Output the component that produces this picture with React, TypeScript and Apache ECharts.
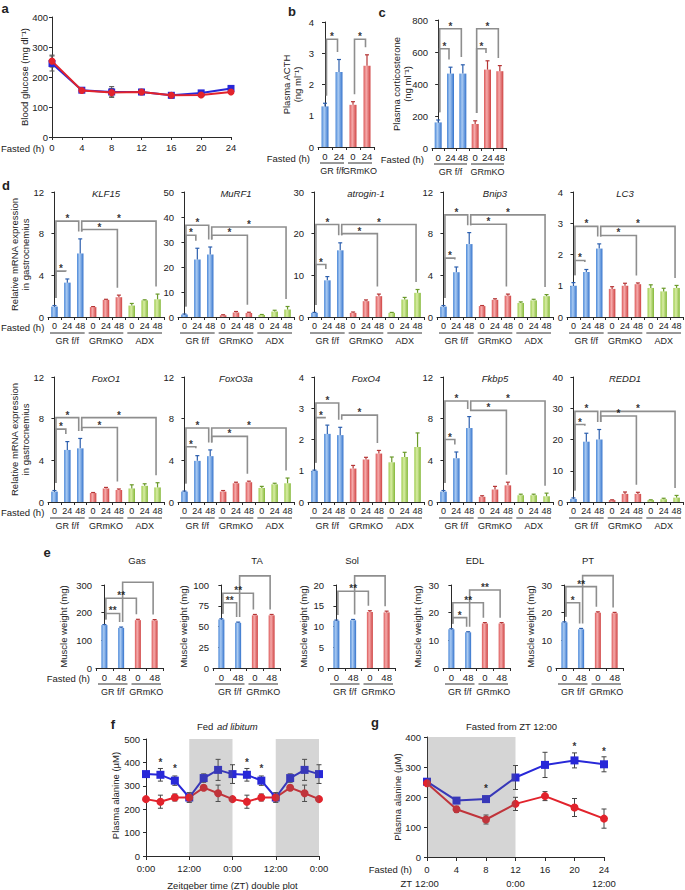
import React, { useEffect, useRef } from 'react';
import * as echarts from 'echarts';

const FONT = '"Liberation Sans", Arial, Helvetica, sans-serif';
const TXT = '#222222';
const AXC = '#2a2a2a';
const BRK = '#8e8e8e';
const BLUE = '#2828d8';
const RED = '#e2232c';
const FS = 9.5;

/* ---------------- data ---------------- */
// a: blood glucose
const hoursA = [0, 4, 8, 12, 16, 20, 24];
const glucoseGR = [245, 156, 150, 150, 139, 147, 162];
const glucoseGRErr = [25, 7, 18, 9, 9, 7, 6];
const glucoseKO = [253, 155, 148, 150, 139, 140, 150];
const glucoseKOErr = [20, 6, 14, 8, 8, 6, 5];

// b: ACTH
const fastedB = ['0', '24', '0', '24'];
const groupsB = [0, 0, 1, 1];
const acth = [1.3, 2.4, 1.35, 2.6];
const acthErr = [0.1, 0.4, 0.1, 0.35];
const acthBrk = [[0, 1, 3.45, 1], [2, 3, 3.45, 1]];

// c: corticosterone
const fastedC = ['0', '24', '48', '0', '24', '48'];
const groupsC = [0, 0, 0, 1, 1, 1];
const cort = [160, 465, 465, 150, 490, 480];
const cortErr = [15, 40, 55, 20, 55, 35];
const cortBrk = [[0, 1, 620, 1], [0, 2, 745, 1], [3, 4, 620, 1], [3, 5, 745, 1]];

const groupNamesBC = ['GR f/f', 'GRmKO'];

// d: mRNA expression
const fastedD = ['0', '24', '48', '0', '24', '48', '0', '24', '48'];
const groupsD = [0, 0, 0, 1, 1, 1, 2, 2, 2];
const groupNamesD = ['GR f/f', 'GRmKO', 'ADX'];
const geneNames = ['KLF15', 'MuRF1', 'atrogin-1', 'Bnip3', 'LC3', 'FoxO1', 'FoxO3a', 'FoxO4', 'Fkbp5', 'REDD1'];
const geneMax = [12, 50, 30, 12, 4, 12, 12, 4, 12, 40];
const geneInterval = [4, 10, 10, 4, 1, 4, 4, 1, 4, 10];

const klf15 = [1.0, 3.3, 6.1, 0.95, 1.65, 1.9, 1.1, 1.6, 1.7];
const klf15Err = [0.1, 0.35, 1.4, 0.05, 0.05, 0.2, 0.2, 0.05, 0.5];
const klf15Brk = [[0, 1, 4.4], [0, 2, 9.2], [2, 5, 8.4], [2, 8, 9.2]];

const murf1 = [1.0, 23, 25, 0.7, 1.8, 1.6, 0.8, 2.2, 3.0];
const murf1Err = [0.2, 4.5, 3, 0.2, 0.4, 0.3, 0.2, 0.5, 1.2];
const murf1Brk = [[0, 1, 32.7], [0, 2, 36.7], [2, 5, 32.7], [2, 8, 36]];

const atrogin1 = [1.0, 8.8, 16, 1.0, 3.8, 5.0, 1.0, 4.2, 5.8];
const atrogin1Err = [0.1, 0.9, 1.8, 0.2, 0.3, 0.5, 0.1, 0.5, 0.8];
const atrogin1Brk = [[0, 1, 12.6], [0, 2, 22.2], [2, 5, 20], [2, 8, 22.2]];

const bnip3 = [1.0, 4.3, 7.0, 1.05, 1.65, 2.05, 1.35, 1.6, 2.0];
const bnip3Err = [0.1, 0.5, 1.1, 0.05, 0.1, 0.15, 0.1, 0.1, 0.15];
const bnip3Brk = [[0, 1, 5.65], [0, 2, 9.8], [2, 5, 8.9], [2, 8, 9.8]];

const lc3 = [1.0, 1.44, 2.19, 0.9, 1.0, 1.05, 0.93, 0.82, 0.93];
const lc3Err = [0.1, 0.08, 0.15, 0.07, 0.08, 0.04, 0.1, 0.1, 0.08];
const lc3Brk = [[0, 1, 1.81], [0, 2, 2.9], [2, 5, 2.61], [2, 8, 2.9]];

const foxo1 = [1.0, 5.0, 5.15, 0.86, 1.3, 1.15, 1.3, 1.55, 1.4];
const foxo1Err = [0.1, 0.8, 0.95, 0.05, 0.1, 0.1, 0.35, 0.2, 0.45];
const foxo1Brk = [[0, 1, 7.0], [0, 2, 8.1], [2, 5, 7.15], [2, 8, 8.1]];

const foxo3a = [1.0, 3.95, 4.4, 1.0, 1.8, 1.9, 1.35, 1.7, 1.8];
const foxo3aErr = [0.05, 0.5, 0.6, 0.1, 0.1, 0.1, 0.15, 0.1, 0.5];
const foxo3aBrk = [[0, 1, 5.3], [0, 2, 7.1], [2, 5, 6.3], [2, 8, 7.1]];

const foxo4 = [1.0, 2.18, 2.14, 1.07, 1.36, 1.55, 1.27, 1.44, 1.76];
const foxo4Err = [0.02, 0.28, 0.25, 0.1, 0.07, 0.1, 0.17, 0.15, 0.45];
const foxo4Brk = [[0, 1, 2.7], [0, 2, 3.17], [2, 5, 2.78]];

const fkbp5 = [1.0, 4.2, 7.1, 0.5, 1.2, 1.6, 0.65, 0.65, 0.55];
const fkbp5Err = [0.1, 0.6, 1.1, 0.1, 0.3, 0.3, 0.1, 0.1, 0.3];
const fkbp5Brk = [[0, 1, 6.0], [0, 2, 9.7], [2, 5, 8.8], [2, 8, 9.7]];

const redd1 = [1.0, 19.3, 20, 0.6, 2.6, 2.6, 0.6, 0.9, 1.4];
const redd1Err = [0.3, 2.7, 3.2, 0.1, 0.6, 0.5, 0.1, 0.3, 0.7];
const redd1Brk = [[0, 1, 24.8], [0, 2, 29], [2, 5, 27.5], [2, 8, 29]];

const geneValues = [klf15, murf1, atrogin1, bnip3, lc3, foxo1, foxo3a, foxo4, fkbp5, redd1];
const geneErrors = [klf15Err, murf1Err, atrogin1Err, bnip3Err, lc3Err, foxo1Err, foxo3aErr, foxo4Err, fkbp5Err, redd1Err];
const geneBrackets = [klf15Brk, murf1Brk, atrogin1Brk, bnip3Brk, lc3Brk, foxo1Brk, foxo3aBrk, foxo4Brk, fkbp5Brk, redd1Brk];

// e: muscle weight
const fastedE = ['0', '48', '0', '48'];
const groupsE = [0, 0, 1, 1];
const muscleNames = ['Gas', 'TA', 'Sol', 'EDL', 'PT'];
const muscleMax = [300, 100, 20, 30, 30];
const muscleInterval = [100, 25, 5, 10, 10];
const gas = [155, 145, 173, 172];
const gasErr = [2, 3, 3, 3];
const gasBrk = [[0, 1, 197, 2], [0, 2, 252, 2], [1, 3, 310, 2]];
const ta = [58.5, 54.5, 63.5, 63.5];
const taErr = [0.8, 0.8, 1, 1];
const taBrk = [[0, 1, 78.7, 2], [0, 2, 90, 2], [1, 3, 111, 2]];
const sol = [11.4, 11.5, 13.5, 13.4];
const solErr = [0.15, 0.2, 0.3, 0.3];
const solBrk = [[0, 2, 18.5, 2], [1, 3, 22.2, 2]];
const edl = [14, 12.9, 16.1, 16.1];
const edlErr = [0.2, 0.2, 0.3, 0.3];
const edlBrk = [[0, 1, 18.2, 1], [0, 2, 23.6, 2], [1, 3, 28.2, 2]];
const pt = [16.5, 14, 20, 19.8];
const ptErr = [0.2, 0.3, 0.3, 0.3];
const ptBrk = [[0, 1, 23.6, 1], [0, 2, 29.4, 2], [1, 3, 33.4, 2]];
const muscleValues = [gas, ta, sol, edl, pt];
const muscleErrors = [gasErr, taErr, solErr, edlErr, ptErr];
const muscleBrackets = [gasBrk, taBrk, solBrk, edlBrk, ptBrk];

// f: plasma alanine, fed ad libitum (double plot)
const ztHours = [0, 4, 8, 12, 16, 20, 24, 28, 32, 36, 40, 44, 48];
const ztLabels = ['0:00', '12:00', '0:00', '12:00', '0:00'];
const alaFedGR = [350, 347, 322, 250, 333, 368, 350, 347, 322, 250, 333, 368, 350];
const alaFedGRErr = [0, 27, 20, 20, 18, 45, 40, 27, 20, 20, 18, 45, 40];
const alaFedKO = [243, 232, 250, 250, 292, 268, 243, 232, 250, 250, 292, 268, 243];
const alaFedKOErr = [0, 28, 15, 20, 10, 35, 8, 28, 15, 20, 10, 35, 8];
const starsF = [[4, 398], [8, 372], [28, 398], [32, 372]];
const darkF = [[12, 24], [36, 48]];

// g: plasma alanine, fasted from ZT 12:00
const fastH = [0, 4, 8, 12, 16, 20, 24];
const alaFastGR = [251, 188, 193, 265, 307, 322, 309];
const alaFastGRErr = [8, 10, 10, 40, 42, 25, 25];
const alaFastKO = [246, 159, 125, 177, 203, 165, 128];
const alaFastKOErr = [5, 10, 15, 22, 15, 30, 32];
const starsG = [[8, 228], [20, 368], [24, 352]];
const darkG = [[0, 12]];
const ztRowG = [[0, '12:00'], [12, '0:00'], [24, '12:00']];

/* ---------------- layout ---------------- */
const LA = { left: 52, top: 17, width: 179, height: 120 };
const LB = { left: 318, top: 22, width: 56, height: 125 };
const LC = { left: 432, top: 20, width: 74, height: 128 };
const D_LEFT = [48, 178, 308, 437, 567];
const D_TOP = [192, 377];
const D_W = 116;
const D_H = 125;
const E_LEFT = [96, 213, 328, 443, 556];
const E_TOP = 585;
const E_W = 67;
const E_H = 83;
const E_TITLE_X = [137, 257, 352, 475, 588];
const E_YT_X = [63, 183, 303, 417, 530];
const LF = { left: 146, top: 739, width: 173, height: 117 };
const LG = { left: 427, top: 737, width: 177, height: 120 };

/* ---------------- helpers ---------------- */
const grad = (stops: string[]) =>
  new echarts.graphic.LinearGradient(0, 0, 1, 0, [
    { offset: 0, color: stops[0] },
    { offset: 0.4, color: stops[1] },
    { offset: 1, color: stops[2] },
  ]);
const GRAD = [
  grad(['#4b88d8', '#a9caf2', '#3473cc']),
  grad(['#dc5a5a', '#f5aaaa', '#cf4343']),
  grad(['#9ccb4b', '#d9eda6', '#84b839']),
];
const ERRC = ['#2c5fae', '#b53535', '#6a9a2a'];

function fontStr(size: number, style = 'normal', weight = 'normal') {
  return `${style} ${weight} ${size}px ${FONT}`;
}

function txt(x: number, y: number, text: string, o: any = {}) {
  const align = o.align || 'center';
  const va = o.va || 'middle';
  return {
    type: 'text',
    x,
    y,
    rotation: o.rot || 0,
    silent: true,
    z: 50,
    style: {
      text,
      font: fontStr(o.size || FS, o.style || 'normal', o.weight || 'normal'),
      fill: o.color || TXT,
      align,
      textAlign: align,
      verticalAlign: va,
      textVerticalAlign: va,
      lineHeight: o.lh || 11,
    },
  };
}

function hline(x1: number, x2: number, y: number) {
  return { type: 'line', silent: true, z: 50, shape: { x1, y1: y, x2, y2: y }, style: { stroke: '#333', lineWidth: 1 } };
}

function errUpRender(_p: any, api: any) {
  const i = api.value(0);
  const v = api.value(1);
  const e = api.value(2);
  const c = ERRC[api.value(3)];
  const p0 = api.coord([i, v]);
  const p1 = api.coord([i, v + e]);
  return {
    type: 'group',
    children: [
      { type: 'line', shape: { x1: p0[0], y1: p0[1], x2: p1[0], y2: p1[1] }, style: { stroke: c, lineWidth: 1.2 } },
      { type: 'line', shape: { x1: p1[0] - 2, y1: p1[1], x2: p1[0] + 2, y2: p1[1] }, style: { stroke: c, lineWidth: 1.2 } },
    ],
  };
}

function bracketRender(_p: any, api: any) {
  const i = api.value(0);
  const top = api.value(1);
  const j = api.value(2);
  const lb = api.value(3);
  const rb = api.value(4);
  const pL = api.coord([i, lb]);
  const pT = api.coord([i, top]);
  const pR = api.coord([j, top]);
  const pRB = api.coord([j, rb]);
  const xl = pL[0] + 1.5;
  const xr = pR[0] - 1.5;
  return {
    type: 'polyline',
    shape: { points: [[xl, pL[1]], [xl, pT[1]], [xr, pT[1]], [xr, pRB[1]]] },
    style: { stroke: BRK, lineWidth: 1.6, fill: 'none' },
  };
}

function errBothRender(color: string) {
  return (_p: any, api: any) => {
    const x = api.value(0);
    const y = api.value(1);
    const e = api.value(2);
    if (!e) return { type: 'group', children: [] };
    const a = api.coord([x, y - e]);
    const b = api.coord([x, y + e]);
    return {
      type: 'group',
      children: [
        { type: 'line', shape: { x1: a[0], y1: a[1], x2: b[0], y2: b[1] }, style: { stroke: color, lineWidth: 1 } },
        { type: 'line', shape: { x1: a[0] - 2.5, y1: a[1], x2: a[0] + 2.5, y2: a[1] }, style: { stroke: color, lineWidth: 1 } },
        { type: 'line', shape: { x1: b[0] - 2.5, y1: b[1], x2: b[0] + 2.5, y2: b[1] }, style: { stroke: color, lineWidth: 1 } },
      ],
    };
  };
}

function shadeRender(ymax: number) {
  return (_p: any, api: any) => {
    const a = api.coord([api.value(0), ymax]);
    const b = api.coord([api.value(1), 0]);
    return {
      type: 'rect',
      shape: { x: a[0], y: a[1], width: b[0] - a[0], height: b[1] - a[1] },
      style: { fill: 'rgba(100,100,100,0.27)' },
    };
  };
}

// star labels drawn by a scatter series whose symbols are invisible
function starSeries(xi: number, yi: number, items: any[], position: string, distance: number) {
  return {
    type: 'scatter',
    xAxisIndex: xi,
    yAxisIndex: yi,
    silent: true,
    z: 8,
    symbol: 'circle',
    symbolSize: 1,
    itemStyle: { color: 'rgba(0,0,0,0)' },
    label: { show: true, position, distance, color: '#000000', fontSize: 10, fontWeight: 'bold', fontFamily: FONT },
    labelLayout: { hideOverlap: false },
    data: items,
  };
}

const axisLineStyle = { lineStyle: { color: AXC, width: 1 } };
const labelStyle = { fontSize: FS, fontFamily: FONT, color: TXT };

function valueY(k: number, max: number, interval: number, margin = 4) {
  return {
    gridIndex: k,
    type: 'value',
    min: 0,
    max,
    interval,
    splitLine: { show: false },
    axisLine: { show: true, ...axisLineStyle },
    axisTick: { show: true, length: 3, ...axisLineStyle },
    axisLabel: { ...labelStyle, margin },
  };
}

function addBarPanel(opt: any, P: any) {
  const k = opt.grid.length;
  const n = P.values.length;
  opt.grid.push({ left: P.box.left, top: P.box.top, width: P.box.width, height: P.box.height });
  const xi = opt.xAxis.length;
  opt.xAxis.push({
    gridIndex: k,
    type: 'category',
    data: P.labels.map((_: string, i: number) => 'c' + i),
    axisLine: { show: true, ...axisLineStyle },
    axisTick: { show: true, length: 3, ...axisLineStyle },
    axisLabel: { ...labelStyle, fontSize: P.tickSize || FS, interval: 0, margin: 4, formatter: (_v: string, i: number) => P.labels[i] },
  });
  const xs = opt.xAxis.length;
  opt.xAxis.push({ gridIndex: k, type: 'value', min: -0.5, max: n - 0.5, show: false, splitLine: { show: false } });
  const yi = opt.yAxis.length;
  opt.yAxis.push(valueY(k, P.max, P.interval));
  opt.series.push({
    type: 'bar',
    xAxisIndex: xi,
    yAxisIndex: yi,
    barWidth: P.barWidth,
    z: 2,
    data: P.values.map((v: number, i: number) => ({ value: v, itemStyle: { color: GRAD[P.groups[i]] } })),
  });
  opt.series.push({
    type: 'custom',
    xAxisIndex: xi,
    yAxisIndex: yi,
    z: 3,
    data: P.values.map((v: number, i: number) => [i, v, P.errors[i], P.groups[i]]),
    renderItem: errUpRender,
  });
  const pad = P.max * 0.06;
  const tip = (i: number) => P.values[i] + P.errors[i] + pad;
  opt.series.push({
    type: 'custom',
    xAxisIndex: xi,
    yAxisIndex: yi,
    z: 4,
    clip: false,
    data: P.brackets.map((b: number[]) => [b[0], b[2], b[1], tip(b[0]), tip(b[1])]),
    renderItem: bracketRender,
  });
  opt.series.push(
    starSeries(
      xs,
      yi,
      P.brackets.map((b: number[]) => ({
        value: [(b[0] + b[1]) / 2, b[2]],
        label: { formatter: (b[3] || 1) === 2 ? '**' : '*' },
      })),
      'top',
      -3,
    ),
  );
  // group underlines and names
  const band = P.box.width / n;
  const bottom = P.box.top + P.box.height;
  let s = 0;
  while (s < n) {
    let e = s;
    while (e + 1 < n && P.groups[e + 1] === P.groups[s]) e++;
    const x1 = P.box.left + s * band + 2;
    const x2 = P.box.left + (e + 1) * band - 2;
    opt.graphic.push(hline(x1, x2, bottom + 16));
    opt.graphic.push(txt((x1 + x2) / 2, bottom + 24, P.groupNames[P.groups[s]], { size: 9 }));
    s = e + 1;
  }
}

function buildOption() {
  const opt: any = {
    animation: false,
    backgroundColor: '#ffffff',
    textStyle: { fontFamily: FONT },
    grid: [],
    xAxis: [],
    yAxis: [],
    series: [],
    graphic: [],
  };
  const G = opt.graphic;

  /* ---- a ---- */
  {
    const k = opt.grid.length;
    opt.grid.push({ ...LA });
    const xi = opt.xAxis.length;
    opt.xAxis.push({
      gridIndex: k,
      type: 'value',
      min: 0,
      max: 24,
      interval: 4,
      splitLine: { show: false },
      axisLine: { show: true, ...axisLineStyle },
      axisTick: { show: true, length: 3, ...axisLineStyle },
      axisLabel: { ...labelStyle, margin: 5 },
    });
    const yi = opt.yAxis.length;
    opt.yAxis.push(valueY(k, 400, 100));
    opt.series.push({ type: 'custom', xAxisIndex: xi, yAxisIndex: yi, z: 3, data: hoursA.map((h, i) => [h, glucoseGR[i], glucoseGRErr[i]]), renderItem: errBothRender('#555') });
    opt.series.push({ type: 'custom', xAxisIndex: xi, yAxisIndex: yi, z: 3, data: hoursA.map((h, i) => [h, glucoseKO[i], glucoseKOErr[i]]), renderItem: errBothRender('#555') });
    opt.series.push({
      type: 'line', xAxisIndex: xi, yAxisIndex: yi, z: 4, symbol: 'rect', symbolSize: 7,
      data: hoursA.map((h, i) => [h, glucoseGR[i]]),
      lineStyle: { color: BLUE, width: 2 }, itemStyle: { color: BLUE },
    });
    opt.series.push({
      type: 'line', xAxisIndex: xi, yAxisIndex: yi, z: 5, symbol: 'circle', symbolSize: 7,
      data: hoursA.map((h, i) => [h, glucoseKO[i]]),
      lineStyle: { color: RED, width: 2 }, itemStyle: { color: RED },
    });
    G.push(txt(5, 8, 'a', { size: 13, weight: 'bold' }));
    G.push(txt(24, LA.top + LA.height / 2, 'Blood glucose (mg dl⁻¹)', { rot: Math.PI / 2 }));
    G.push(txt(1, LA.top + LA.height + 11, 'Fasted (h)', { align: 'left' }));
  }

  /* ---- b ---- */
  addBarPanel(opt, {
    box: LB, labels: fastedB, groups: groupsB, groupNames: groupNamesBC,
    values: acth, errors: acthErr, brackets: acthBrk, max: 4, interval: 1, barWidth: 7,
  });
  G.push(txt(LB.left - 26, 11, 'b', { size: 13, weight: 'bold' }));
  G.push(txt(LB.left - 26, LB.top + LB.height / 2, 'Plasma ACTH\n(ng ml⁻¹)', { rot: Math.PI / 2 }));
  G.push(txt(LB.left - 8, LB.top + LB.height + 11, 'Fasted (h)', { align: 'right' }));

  /* ---- c ---- */
  addBarPanel(opt, {
    box: LC, labels: fastedC, groups: groupsC, groupNames: groupNamesBC,
    values: cort, errors: cortErr, brackets: cortBrk, max: 800, interval: 200, barWidth: 7,
  });
  G.push(txt(LC.left - 50, 12, 'c', { size: 13, weight: 'bold' }));
  G.push(txt(LC.left - 30, LC.top + LC.height / 2, 'Plasma corticosterone\n(ng ml⁻¹)', { rot: Math.PI / 2 }));
  G.push(txt(LC.left - 8, LC.top + LC.height + 11, 'Fasted (h)', { align: 'right' }));

  /* ---- d ---- */
  G.push(txt(6, 185, 'd', { size: 13, weight: 'bold' }));
  for (let g = 0; g < geneNames.length; g++) {
    const r = Math.floor(g / 5);
    const c = g % 5;
    const box = { left: D_LEFT[c], top: D_TOP[r], width: D_W, height: D_H };
    addBarPanel(opt, {
      box, labels: fastedD, groups: groupsD, groupNames: groupNamesD,
      values: geneValues[g], errors: geneErrors[g], brackets: geneBrackets[g],
      max: geneMax[g], interval: geneInterval[g], barWidth: 6.5, tickSize: 9,
    });
    G.push(txt(box.left + D_W / 2, box.top + 1, geneNames[g], { style: 'italic' }));
    if (c === 0) {
      G.push(txt(20, box.top + D_H / 2, 'Relative mRNA expression\nin gastrocnemius', { rot: Math.PI / 2 }));
      G.push(txt(1, box.top + D_H + 10, 'Fasted (h)', { align: 'left' }));
    }
  }

  /* ---- e ---- */
  G.push(txt(47, 552, 'e', { size: 13, weight: 'bold' }));
  for (let m = 0; m < muscleNames.length; m++) {
    const box = { left: E_LEFT[m], top: E_TOP, width: E_W, height: E_H };
    addBarPanel(opt, {
      box, labels: fastedE, groups: groupsE, groupNames: groupNamesBC,
      values: muscleValues[m], errors: muscleErrors[m], brackets: muscleBrackets[m],
      max: muscleMax[m], interval: muscleInterval[m], barWidth: 6,
    });
    G.push(txt(E_TITLE_X[m], 560, muscleNames[m]));
    G.push(txt(E_YT_X[m], E_TOP + E_H / 2, 'Muscle weight (mg)', { rot: Math.PI / 2 }));
  }
  G.push(txt(E_LEFT[0] - 6, E_TOP + E_H + 10, 'Fasted (h)', { align: 'right' }));

  /* ---- f & g ---- */
  const linePanel = (L: any, xsv: number[], gr: number[], grE: number[], ko: number[], koE: number[], xmax: number, xint: number, ymax: number, fmt: any, dark: number[][], stars: number[][]) => {
    const k = opt.grid.length;
    opt.grid.push({ ...L });
    const xi = opt.xAxis.length;
    opt.xAxis.push({
      gridIndex: k, type: 'value', min: 0, max: xmax, interval: xint,
      splitLine: { show: false },
      axisLine: { show: true, ...axisLineStyle },
      axisTick: { show: true, length: 4, ...axisLineStyle },
      axisLabel: { ...labelStyle, margin: 7, formatter: fmt },
    });
    const yi = opt.yAxis.length;
    opt.yAxis.push(valueY(k, ymax, 100, 6));
    opt.series.push({ type: 'custom', xAxisIndex: xi, yAxisIndex: yi, z: 3, data: xsv.map((h, i) => [h, gr[i], grE[i]]), renderItem: errBothRender('#444') });
    opt.series.push({ type: 'custom', xAxisIndex: xi, yAxisIndex: yi, z: 3, data: xsv.map((h, i) => [h, ko[i], koE[i]]), renderItem: errBothRender('#444') });
    opt.series.push({
      type: 'line', xAxisIndex: xi, yAxisIndex: yi, z: 4, symbol: 'rect', symbolSize: 8,
      data: xsv.map((h, i) => [h, gr[i]]), lineStyle: { color: BLUE, width: 2 }, itemStyle: { color: BLUE },
    });
    opt.series.push({
      type: 'line', xAxisIndex: xi, yAxisIndex: yi, z: 4, symbol: 'circle', symbolSize: 8,
      data: xsv.map((h, i) => [h, ko[i]]), lineStyle: { color: RED, width: 2 }, itemStyle: { color: RED },
    });
    opt.series.push({ type: 'custom', xAxisIndex: xi, yAxisIndex: yi, z: 6, data: dark, renderItem: shadeRender(ymax) });
    opt.series.push(starSeries(xi, yi, stars.map((s) => ({ value: s, label: { formatter: '*' } })), 'inside', 0));
  };

  linePanel(LF, ztHours, alaFedGR, alaFedGRErr, alaFedKO, alaFedKOErr, 48, 12, 500,
    (v: number) => ztLabels[Math.round(v / 12)], darkF, starsF);
  G.push(txt(113, 724, 'f', { size: 13, weight: 'bold' }));
  G.push(txt(216, 726, 'Fed ', { align: 'right' }));
  G.push(txt(217, 726, 'ad libitum', { align: 'left', style: 'italic' }));
  G.push(txt(115, LF.top + LF.height / 2 - 2, 'Plasma alanine (µM)', { rot: Math.PI / 2 }));
  G.push(txt(LF.left + LF.width / 2, 885, 'Zeitgeber time (ZT) double plot'));

  linePanel(LG, fastH, alaFastGR, alaFastGRErr, alaFastKO, alaFastKOErr, 24, 4, 400,
    (v: number) => String(v), darkG, starsG);
  G.push(txt(375, 722, 'g', { size: 13, weight: 'bold' }));
  G.push(txt(LG.left + LG.width / 2 - 4, 726, 'Fasted from ZT 12:00'));
  G.push(txt(397, LG.top + LG.height / 2, 'Plasma alanine (µM)', { rot: Math.PI / 2 }));
  G.push(txt(LG.left - 15, LG.top + LG.height + 12, 'Fasted (h)', { align: 'right' }));
  G.push(txt(LG.left - 15, 883, 'ZT', { align: 'right' }));
  for (const [h, lab] of ztRowG) {
    G.push(txt(LG.left + ((h as number) / 24) * LG.width, 883, lab as string));
  }

  return opt;
}

export default function App() {
  const ref = useRef<HTMLDivElement>(null);
  useEffect(() => {
    const chart = echarts.init(ref.current as HTMLDivElement, null, { renderer: 'svg' });
    chart.setOption(buildOption());
    return () => chart.dispose();
  }, []);
  return (
    <div
      ref={ref}
      style={{ position: 'absolute', left: 0, top: 0, width: 685, height: 890, background: '#ffffff' }}
    />
  );
}
